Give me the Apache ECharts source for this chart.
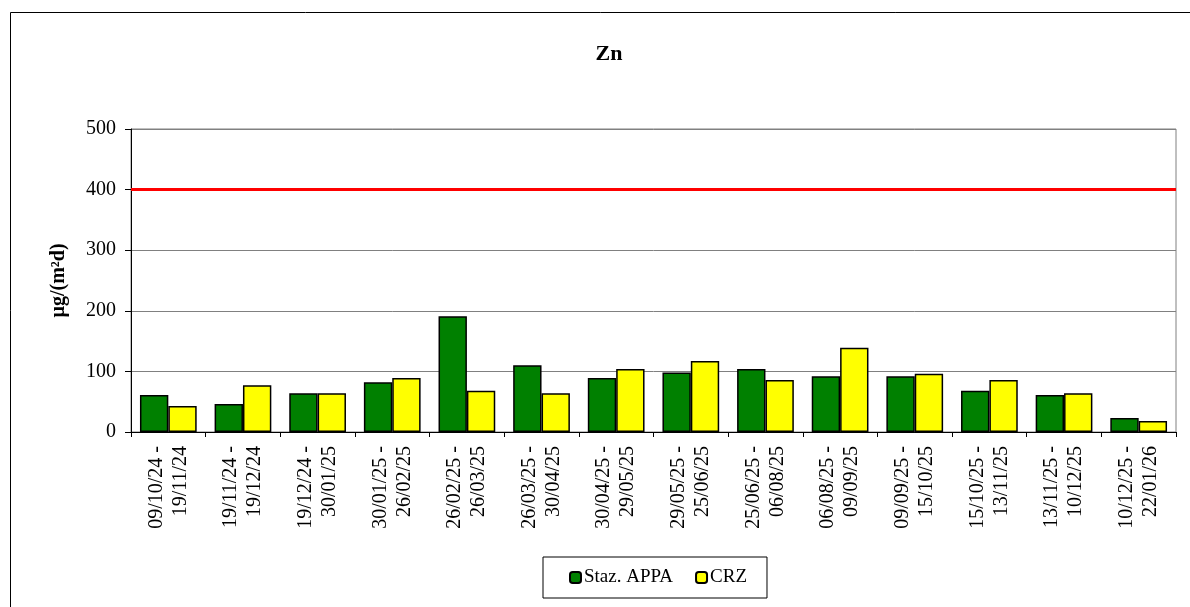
<!DOCTYPE html>
<html>
<head>
<meta charset="utf-8">
<script src="https://cdn.jsdelivr.net/npm/echarts@6/dist/echarts.min.js"></script>
<style>
  html, body { margin: 0; padding: 0; background: #fff; }
  #chart { width: 1190px; height: 607px; }
</style>
</head>
<body>
<div id="chart"></div>
<script>
const periods = [
  "09/10/24 -\n19/11/24", "19/11/24 -\n19/12/24", "19/12/24 -\n30/01/25", "30/01/25 -\n26/02/25",
  "26/02/25 -\n26/03/25", "26/03/25 -\n30/04/25", "30/04/25 -\n29/05/25", "29/05/25 -\n25/06/25",
  "25/06/25 -\n06/08/25", "06/08/25 -\n09/09/25", "09/09/25 -\n15/10/25", "15/10/25 -\n13/11/25",
  "13/11/25 -\n10/12/25", "10/12/25 -\n22/01/26"
];
const stazAppa = [61, 46, 64, 82, 191, 110, 89, 98, 104, 92, 92, 68, 61, 23];
const crz = [43, 77, 64, 89, 68, 64, 104, 117, 86, 139, 96, 86, 64, 18];
const limitValue = 400;
const yTicks = [0, 100, 200, 300, 400, 500];

const font = "'Liberation Serif', 'Times New Roman', serif";
const chart = echarts.init(document.getElementById("chart"));

chart.setOption({
  animation: false,
  backgroundColor: "#fff",
  textStyle: { fontFamily: font },
  graphic: [
    {
      type: "rect",
      left: 8,
      top: 10,
      shape: { width: 1200, height: 620 },
      style: { fill: "none", stroke: "#000", lineWidth: 1 },
      silent: true,
    },
    {
      type: "text",
      x: 609,
      y: 54,
      style: {
        text: "Zn",
        font: "bold 22px " + font,
        fill: "#000",
        align: "center",
        verticalAlign: "middle",
      },
      silent: true,
    },
  ],
  grid: {
    left: 131,
    right: 14,
    top: 129,
    bottom: 175,
    show: true,
    borderColor: "#808080",
    borderWidth: 1,
    backgroundColor: "transparent",
  },
  legend: {
    bottom: 9,
    left: 543,
    padding: [10, 20, 10, 26],
    itemWidth: 11,
    itemHeight: 11,
    itemGap: 22,
    borderColor: "#000",
    borderWidth: 1,
    textStyle: { fontFamily: font, fontSize: 19, color: "#000", padding: [0, 0, 0, -2], lineHeight: 21 },
    data: ["Staz. APPA", "CRZ"],
  },
  xAxis: {
    type: "category",
    data: periods,
    axisLine: { lineStyle: { color: "#000", width: 1 } },
    axisTick: { show: true, length: 5, lineStyle: { color: "#000" } },
    axisLabel: {
      rotate: 90,
      interval: 0,
      margin: 14,
      fontFamily: font,
      fontSize: 20,
      color: "#000",
      lineHeight: 24,
    },
  },
  yAxis: {
    type: "value",
    min: yTicks[0],
    max: yTicks[yTicks.length - 1],
    interval: 100,
    name: "µg/(m²d)",
    nameLocation: "middle",
    nameRotate: 90,
    nameGap: 62,
    nameTextStyle: { fontFamily: font, fontSize: 20, fontWeight: "bold", color: "#000" },
    axisLine: { show: true, lineStyle: { color: "#000", width: 1 } },
    axisTick: { show: true, length: 6, lineStyle: { color: "#000" } },
    axisLabel: { fontFamily: font, fontSize: 20, color: "#000", margin: 15 },
    splitLine: { lineStyle: { color: "#808080", width: 1 } },
  },
  series: [
    {
      name: "Staz. APPA",
      type: "bar",
      data: stazAppa,
      barGap: "0%",
      barCategoryGap: "24%",
      itemStyle: { color: "#008000", borderColor: "#000", borderWidth: 1.5 },
      markLine: {
        silent: true,
        symbol: "none",
        label: { show: false },
        lineStyle: { color: "#ff0000", width: 3, type: "solid" },
        data: [{ yAxis: limitValue }],
      },
    },
    {
      name: "CRZ",
      type: "bar",
      data: crz,
      itemStyle: { color: "#ffff00", borderColor: "#000", borderWidth: 1.5 },
    },
  ],
});
</script>
</body>
</html>
